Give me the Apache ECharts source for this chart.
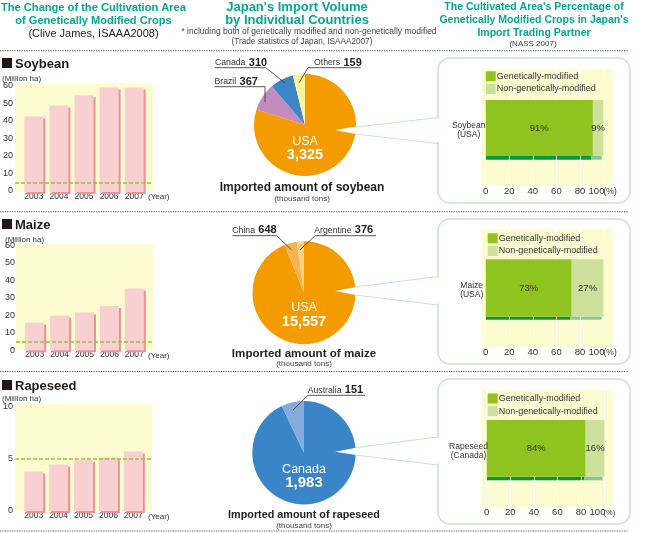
<!DOCTYPE html>
<html><head><meta charset="utf-8">
<style>html,body{margin:0;padding:0;background:#fff}#c{width:646px;height:533px}</style>
<script src="https://cdn.jsdelivr.net/npm/echarts@6/dist/echarts.min.js"></script>
</head><body><div id="c"></div>
<script>
// ---- data ----
const years = [2003, 2004, 2005, 2006, 2007];
const soybeanArea = [43, 49.3, 55.2, 59.6, 59.6];
const maizeArea = [15.8, 19.8, 21.7, 25.3, 35.3];
const rapeseedArea = [3.78, 4.45, 4.88, 5.13, 5.7];
const soybeanTicks = [0, 5, 10, 20, 30, 40, 50, 60];
const maizeTicks = [0, 5, 10, 20, 30, 40, 50, 60];
const rapeseedTicks = [0, 5, 10];
const soybeanNames = ['USA', 'Brazil', 'Canada', 'Others'];
const soybeanTons = [3325, 367, 310, 159];
const maizeNames = ['USA', 'China', 'Argentine'];
const maizeTons = [15557, 648, 376];
const rapeseedNames = ['Canada', 'Australia'];
const rapeseedTons = [1983, 151];
const gmShare = [91, 73, 84];
const nonGmShare = [9, 27, 16];
const gmLabels = ['Soybean\n(USA)', 'Maize\n(USA)', 'Rapeseed\n(Canada)'];
const percentTicks = [0, 20, 40, 60, 80, 100];
const GM = 'Genetically-modified', NGM = 'Non-genetically-modified';

// ---- layout ----
const FF = 'Liberation Sans, Arial, sans-serif';
const TEAL = '#00a98f', YEL = '#fdfbd0', INK = '#2b2b2b', BOXC = '#c6e5ca';
const rows = [
 {title:'Soybean', ty:63.5, sqy:58, mx:2, my:77.5, bar:{l:12,t:84,w:141,h:108,max:61.6,vals:soybeanArea,ticks:soybeanTicks,m:2,up:2}, yearY:196,
  pie:{cx:305,cy:125,r:51,names:soybeanNames,vals:soybeanTons,cols:['#f49b00','#c28dbd','#3c85c6','#fdf59a'],ly:141,vy:154,vf:14.5,
       title:'Imported amount of soybean',tf:12,tY:186.7,sY:197.5,tx:302,
       notch:[[335,130],[356,126.5],[356,134]],out:[[356,127,438,117.5],[355,134,438,143.5]],
       calls:[{i:2,x:215,y:62,ul:[215,265.7],uy:67.7,tip:[[265.7,67.7],[285,83]]},
              {i:3,x:314,y:62,ul:[308,360.7],uy:67.7,tip:[[308,67.7],[299,83]]},
              {i:1,x:214.5,y:81,ul:[214.5,265],uy:86.7,tip:[[265,86.7],[265,102]]}]},
  box:{t:58,b:203,yt:69.3,yb:186,bt:100,bb:156,sb:159.7,l:485.7,gapT:118,gapB:143,sw:485.7,s1:71.3,s2:84,catX:468.7,catY:129}},
 {title:'Maize', ty:224, sqy:219, mx:5, my:238.5, bar:{l:16,t:244.3,w:137,h:106,max:60.6,vals:maizeArea,ticks:maizeTicks,m:1,up:0}, yearY:354.7,
  pie:{cx:304,cy:292.7,r:51.5,names:maizeNames,vals:maizeTons,cols:['#f49b00','#f8b24e','#fbd08c'],ly:307,vy:321,vf:14.5,
       title:'Imported amount of maize',tf:11.6,tY:352.3,sY:363,tx:304,
       notch:[[335,291],[356,287],[356,295]],out:[[355,287,438,276.5],[355,295,438,305]],
       calls:[{i:1,x:232.3,y:229.3,ul:[232.3,276.7],uy:235.7,tip:[[276.7,235.7],[291.7,250]]},
              {i:2,x:314.3,y:229.3,ul:[315,376],uy:235.7,tip:[[315,235.7],[300,250]]}]},
  box:{t:219,b:364,yt:229,yb:347.3,bt:259.3,bb:316.7,sb:319.7,l:485.7,gapT:277,gapB:304.5,sw:487.7,s1:233.3,s2:245.3,catX:471.7,catY:289}},
 {title:'Rapeseed', ty:385, sqy:380, mx:2, my:397.7, bar:{l:12,t:404,w:140,h:107,max:10.25,vals:rapeseedArea,ticks:rapeseedTicks,m:2,up:0}, yearY:516,
  pie:{cx:304,cy:452.7,r:51.7,names:rapeseedNames,vals:rapeseedTons,cols:['#3a85c8','#86abdd'],ly:468.3,vy:481.7,vf:15,
       title:'Imported amount of rapeseed',tf:10.8,tY:514,sY:524.5,tx:304,
       notch:[[335,451.7],[356,447.7],[356,455]],out:[[355,447.7,438,437],[355,455,438,465]],
       calls:[{i:1,x:307.7,y:389.3,ul:[308,365],uy:395.3,tip:[[308,395.3],[293,410]]}]},
  box:{t:379,b:524,yt:390,yb:507.3,bt:420,bb:476.7,sb:480.3,l:486.7,gapT:437.5,gapB:464.5,sw:487.7,s1:393.5,s2:406.5,catX:468.5,catY:450}}
];
const dividers = [50.7, 211.7, 371.5, 531];

const grid=[],xAxis=[],yAxis=[],series=[],legend=[],g=[];
function txt(text,x,y,font,fill,align,extra){
  g.push({type:'text',z:120,silent:true,style:Object.assign({text,x,y:y+1,font,fill:fill||INK,textAlign:align||'left',textVerticalAlign:'middle'},extra||{})});
}
function line(pts,stroke,w,extra){
  g.push({type:'polyline',z:110,silent:true,shape:{points:pts},style:Object.assign({stroke,lineWidth:w,fill:null},extra||{})});
}
function addGrid(l,t,w,h,bg){
  grid.push({left:l,top:t,width:w,height:h,containLabel:false,show:!!bg,backgroundColor:bg||'transparent',borderWidth:0});
  return grid.length-1;
}

// headers
txt('The Change of the Cultivation Area',93.5,6.5,'bold 11.1px '+FF,TEAL,'center');
txt('of Genetically Modified Crops',93.5,19.5,'bold 11.1px '+FF,TEAL,'center');
txt('(Clive James, ISAAA2008)',93.5,33,'11px '+FF,'#222','center');
txt("Japan's Import Volume",297,6.5,'bold 13px '+FF,TEAL,'center');
txt('by Individual Countries',297,19.5,'bold 13px '+FF,TEAL,'center');
txt('* including both of genetically modified and non-genetically modified',309,30.5,'8.5px '+FF,'#444','center');
txt('(Trade statistics of Japan, ISAAA2007)',302,41,'8.2px '+FF,'#444','center');
txt("The Cultivated Area's Percentage of",534,6.5,'bold 10.5px '+FF,TEAL,'center');
txt("Genetically Modified Crops in Japan's",534,19.5,'bold 10.5px '+FF,TEAL,'center');
txt('Import Trading Partner',534,32,'bold 10.5px '+FF,TEAL,'center');
txt('(NASS 2007)',533,43,'8px '+FF,'#444','center');
dividers.forEach(y=>line([[0,y],[628,y]],'#555',1,{lineDash:[1.2,1.2]}));

rows.forEach((R,ri)=>{
  // section heading
  g.push({type:'rect',z:110,silent:true,shape:{x:2,y:R.sqy,width:10,height:10},style:{fill:'#231815'}});
  txt(R.title,15,R.ty,'bold 13px '+FF,'#231815');
  txt('(Million ha)',R.mx,R.my,'8px '+FF,'#333');
  txt('(Year)',148,R.yearY,'8px '+FF,'#333');
  // area bars
  const B=R.bar, gi=addGrid(B.l,B.t,B.w,B.h,YEL), ai=xAxis.length;
  xAxis.push({gridIndex:gi,type:'value',min:2002.25,max:2002.25+5.5,interval:0.25,
    axisLine:{show:false},axisTick:{show:false},splitLine:{show:false},
    axisLabel:{fontSize:8.5,color:'#333',fontFamily:FF,margin:0,showMinLabel:true,
      formatter:v=>years.includes(v)?String(v):''}});
  yAxis.push({gridIndex:gi,type:'value',min:0,max:B.max,interval:5,
    axisLine:{show:false},axisTick:{show:false},splitLine:{show:false},
    axisLabel:{margin:B.m,showMinLabel:true,showMaxLabel:false,hideOverlap:false,
      formatter:v=>B.ticks.includes(v)?'{a|'+v+'}':'',
      rich:{a:{fontSize:9,color:'#333',fontFamily:FF,padding:[0,0,B.up,0]}}}});
  series.push({type:'bar',name:R.title+' area',xAxisIndex:ai,yAxisIndex:ai,barWidth:19,silent:true,animation:false,
    data:years.map((y,i)=>[y,B.vals[i]]),
    itemStyle:{color:'#f9d0d2',shadowColor:'#ef9097',shadowOffsetX:2,shadowOffsetY:2,shadowBlur:0},
    markLine:{silent:true,symbol:'none',animation:false,label:{show:false},
      lineStyle:{color:'#9cc42c',type:[4,2],width:1.5,opacity:1},emphasis:{disabled:true},data:[{yAxis:5}]}});
  // import pie
  const P=R.pie;
  series.push({type:'pie',name:R.title+' imports',center:[P.cx,P.cy],radius:[0,P.r],startAngle:90,clockwise:true,silent:true,animation:false,
    label:{show:false},labelLine:{show:false},
    data:P.names.map((n,i)=>({name:n,value:P.vals[i],itemStyle:{color:P.cols[i]}}))});
  g.push({type:'polygon',z:105,silent:true,shape:{points:P.notch},style:{fill:'#fff'}});
  P.out.forEach(o=>line([[o[0],o[1]],[o[2],o[3]]],BOXC,1.2));
  txt(P.names[0],P.cx,P.ly,'12.5px '+FF,'#fff','center');
  txt(P.vals[0].toLocaleString('en-US'),P.cx,P.vy,'bold '+P.vf+'px '+FF,'#fff','center');
  txt(P.title,P.tx,P.tY,'bold '+P.tf+'px '+FF,'#222','center');
  txt('(thousand tons)',P.tx,P.sY,'8px '+FF,'#444','center');
  P.calls.forEach(c=>{
    g.push({type:'text',z:120,silent:true,style:{x:c.x,y:c.y+1,textVerticalAlign:'middle',
      text:'{a|'+P.names[c.i]+'} {b|'+P.vals[c.i]+'}',
      rich:{a:{font:'8.7px '+FF,fill:'#333'},b:{font:'bold 11px '+FF,fill:'#222'}}}});
    line([[c.ul[0],c.uy],[c.ul[1],c.uy]],'#444',0.9);
    line(c.tip,'#444',0.9);
  });
  // callout panel
  const X=R.box, W=117.8, SW=116;
  g.push({type:'rect',z:-5,silent:true,shape:{x:438,y:X.t,width:192,height:X.b-X.t,r:12},style:{fill:'#fff',stroke:BOXC,lineWidth:1.5}});
  g.push({type:'rect',z:106,silent:true,shape:{x:436,y:X.gapT+1,width:4,height:X.gapB-X.gapT-2},style:{fill:'#fff'}});
  g.push({type:'rect',z:-4,silent:true,shape:{x:481.7,y:X.yt,width:131,height:X.yb-X.yt},style:{fill:YEL}});
  // gridlines + percent axis
  const gA=addGrid(X.l,X.yt,W,X.yb-X.yt), aA=xAxis.length;
  xAxis.push({gridIndex:gA,type:'value',min:0,max:100,interval:20,z:3,
    axisLine:{show:false},axisTick:{show:false},
    splitLine:{show:true,lineStyle:{color:'#fff',width:1}},
    axisLabel:{fontSize:9.5,color:'#333',fontFamily:FF,margin:0,showMinLabel:true,showMaxLabel:true,
      formatter:v=>percentTicks.includes(v)?(v===100?'{r|100}':String(v)):'',rich:{r:{fontSize:9.5,color:'#333',fontFamily:FF,padding:[0,14,0,0]}}}});
  yAxis.push({gridIndex:gA,type:'value',min:0,max:1,show:false});
  txt('(%)',603.5,X.yb+4.5,(ri==2?'7.5px ':'8.5px ')+FF,'#333');
  // stacked share bar
  const gB=addGrid(X.l,X.bt,W,X.bb-X.bt), aB=xAxis.length;
  xAxis.push({gridIndex:gB,type:'value',min:0,max:100,show:false});
  yAxis.push({gridIndex:gB,type:'category',data:[gmLabels[ri]],
    axisLine:{show:false},axisTick:{show:false},axisLabel:{show:false}});
  txt(gmLabels[ri],X.catX,X.catY,'8.5px '+FF,'#333','center',{lineHeight:8.5});
  const lab={show:true,position:'inside',fontSize:9.5,color:'#333',fontFamily:FF,formatter:p=>p.value+'%'};
  series.push({type:'bar',name:GM,stack:'s'+ri,xAxisIndex:aB,yAxisIndex:aB,barWidth:'100%',z:5,silent:true,animation:false,
    itemStyle:{color:'#8fc31f'},label:lab,data:[gmShare[ri]]});
  series.push({type:'bar',name:NGM,stack:'s'+ri,xAxisIndex:aB,yAxisIndex:aB,barWidth:'100%',z:5,silent:true,animation:false,
    itemStyle:{color:'#cde09c'},label:lab,data:[nonGmShare[ri]]});
  // base strip under the bar
  const gS=addGrid(X.l,X.bb,SW,X.sb-X.bb), aS=xAxis.length;
  xAxis.push({gridIndex:gS,type:'value',min:0,max:100,show:false});
  yAxis.push({gridIndex:gS,type:'category',data:[gmLabels[ri]],show:false});
  series.push({type:'bar',name:'strip a',stack:'t'+ri,xAxisIndex:aS,yAxisIndex:aS,barWidth:'100%',z:1,silent:true,animation:false,
    itemStyle:{color:'#009944'},data:[gmShare[ri]]});
  series.push({type:'bar',name:'strip b',stack:'t'+ri,xAxisIndex:aS,yAxisIndex:aS,barWidth:'100%',z:1,silent:true,animation:false,
    itemStyle:{color:'#80c8a0'},data:[nonGmShare[ri]]});
  legend.push({show:true,left:X.sw,top:X.s1,orient:'vertical',padding:0,itemWidth:10,itemHeight:10,itemGap:2.7,selectedMode:false,icon:'rect',
    textStyle:{fontSize:9,color:'#333',fontFamily:FF,padding:[0,0,0,-4]},data:[GM,NGM]});
});

const chart=echarts.init(document.getElementById('c'),null,{renderer:'canvas'});
chart.setOption({animation:false,backgroundColor:'#fff',tooltip:{show:false},grid,xAxis,yAxis,series,legend,graphic:{elements:g}});
</script></body></html>
